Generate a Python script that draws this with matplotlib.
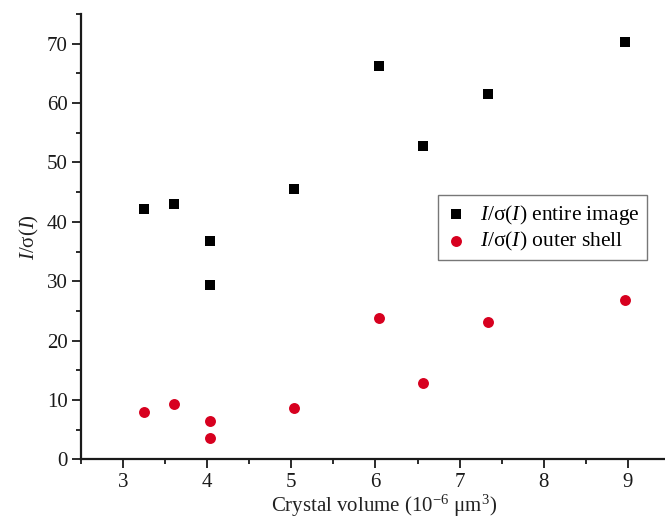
import numpy as np
import matplotlib
matplotlib.use('Agg')
import matplotlib.pyplot as plt
from matplotlib.ticker import MultipleLocator

plt.rcParams['font.family'] = ['Liberation Serif', 'DejaVu Serif']
plt.rcParams['mathtext.fontset'] = 'custom'
plt.rcParams['mathtext.rm'] = 'Liberation Serif'
plt.rcParams['mathtext.it'] = 'Liberation Serif:italic'

# 결정 부피 (10^-6 um^3)
volume = [3.25, 3.60, 4.03, 4.03, 5.03, 6.04, 6.56, 7.34, 8.97]
# I/sigma(I) 전체 이미지
entire = [42.1, 43.0, 36.8, 29.3, 45.5, 66.3, 52.8, 61.5, 70.3]
# I/sigma(I) 외곽 shell
outer = [8.0, 9.3, 6.4, 3.6, 8.6, 23.8, 12.8, 23.1, 26.9]

fig = plt.figure(figsize=(6.65, 5.2), dpi=100)
# 원본 그림은 오른쪽이 잘려 있으므로 axes를 그림 밖까지 늘린다
ax = fig.add_axes([0.1218, 0.1167, 0.911, 0.8563])

ax.scatter(volume, entire, marker='s', s=45, color='black', linewidths=0,
           label=r'$I$/σ($I$) entire image', zorder=3)
ax.scatter(volume, outer, marker='o', s=62, color='#d7001f', linewidths=0,
           label=r'$I$/σ($I$) outer shell', zorder=3)

ax.set_xlim(2.5, 9.70)
ax.set_ylim(0, 75)
ax.set_xticks([3, 4, 5, 6, 7, 8, 9])
ax.set_xticks(np.arange(2.5, 9.6, 0.5), minor=True)
ax.yaxis.set_major_locator(MultipleLocator(10))
ax.yaxis.set_minor_locator(MultipleLocator(5))

for s in ['top', 'right']:
    ax.spines[s].set_visible(False)
for s in ['left', 'bottom']:
    ax.spines[s].set_linewidth(1.6)
    ax.spines[s].set_color('#1a1a1a')

ax.tick_params(which='major', direction='out', length=6.5, width=1.3,
               labelsize=15, colors='#1a1a1a', pad=3)
ax.tick_params(which='minor', direction='out', length=3.5, width=1.3, colors='#1a1a1a')

ax.set_xlabel(r'Crystal volume (10$^{-6}$ μm$^3$)', fontsize=15, color='#222222', labelpad=1)
ax.set_ylabel(r'$I$/σ($I$)', fontsize=15, color='#222222', labelpad=4)

leg = ax.legend(loc='upper left', bbox_to_anchor=(0.589, 0.5935), fontsize=15.5,
                frameon=True, fancybox=False, handletextpad=0.6, borderpad=0.35,
                labelspacing=0.15, handlelength=1.0, borderaxespad=0)
leg.get_frame().set_edgecolor('#555555')
leg.get_frame().set_linewidth(1.0)

fig.savefig('out.png', dpi=100)
